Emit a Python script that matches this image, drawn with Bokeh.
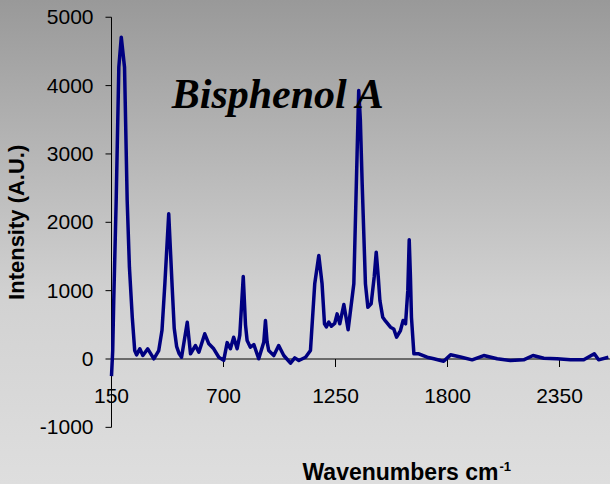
import math
from bokeh.plotting import figure
from bokeh.models import Range1d, Label
from bokeh.core.properties import value
from bokeh.embed import file_html
from bokeh.resources import INLINE

# ---- data ----
wavenumbers = [150, 156, 161, 173, 186, 198, 214, 227, 238, 252, 264, 273, 289, 304, 328, 358,
               382, 398, 412, 431, 448, 458, 470, 482, 494, 522, 538, 562, 579, 608, 628, 652,
               677, 701, 718, 734, 750, 767, 780, 797, 808, 816, 832, 849, 873, 898, 906, 914,
               922, 947, 971, 996, 1029, 1050, 1070, 1103, 1127, 1148, 1168, 1184, 1196, 1205,
               1217, 1230, 1246, 1258, 1271, 1291, 1312, 1340, 1356, 1364, 1372, 1381, 1397,
               1409, 1425, 1440, 1450, 1460, 1468, 1482, 1496, 1520, 1536, 1550, 1569, 1582,
               1594, 1605, 1612, 1618, 1623, 1635, 1659, 1700, 1733, 1766, 1781, 1815, 1864,
               1921, 1978, 2044, 2109, 2174, 2220, 2273, 2338, 2404, 2469, 2521, 2542, 2590]
intensity = [-250, 124, 856, 2319, 4269, 4708, 4269, 2319, 1343, 611, 124, 60, 149, 51, 149, 3,
             124, 420, 1100, 2124, 1050, 450, 180, 80, 26, 538, 76, 197, 99, 369, 222, 149,
             26, -20, 240, 150, 319, 150, 350, 1207, 500, 270, 173, 212, 3, 250, 563, 250,
             124, 51, 197, 51, -61, 17, -22, 26, 124, 1100, 1514, 1100, 515, 470,
             540, 480, 520, 661, 515, 797, 427, 1100, 3000, 3928, 3500, 2563, 1100,
             758, 807, 1200, 1563, 1200, 856, 611, 553, 465, 440, 319, 417, 563,
             515, 1000, 1744, 1200, 611, 76, 76, 26, 3, -22, -32, 61, 30,
             -12, 51, 3, -22, -12, 51, 12, 3, -12, -12, 76, -12, 26]

x_ticks = [150, 700, 1250, 1800, 2350]
x_tick_labels = ["150", "700", "1250", "1800", "2350"]
y_ticks = [-1000, 0, 1000, 2000, 3000, 4000, 5000]
y_tick_labels = ["-1000", "0", "1000", "2000", "3000", "4000", "5000"]

chart_title = "Bisphenol A"
x_title = "Wavenumbers cm"
x_title_sup = "-1"
y_title = "Intensity (A.U.)"

# ---- figure: the frame fills the whole canvas, both axes are drawn by hand ----
W, H = 610, 484
AXIS_PX = 111                      # pixel column of the vertical axis
UNITS_PER_PX_X = 550 / 112.0
X0 = x_ticks[0] - AXIS_PX * UNITS_PER_PX_X
X1 = X0 + W * UNITS_PER_PX_X
Y0, Y1 = -1836, 5245
UNITS_PER_PX_Y = (Y1 - Y0) / H

p = figure(width=W, height=H, output_backend="svg", toolbar_location=None,
           x_range=Range1d(X0, X1), y_range=Range1d(Y0, Y1),
           x_axis_location=None, y_axis_location=None,
           min_border_left=0, min_border_right=0, min_border_top=0, min_border_bottom=0)

p.background_fill_alpha = 0
p.border_fill_alpha = 0
p.outline_line_color = None
p.styles = {"background": "linear-gradient(to bottom, #999999 0%, #d2d2d2 62%, #dedede 100%)"}
p.grid.visible = False

FONT = "Liberation Sans"
xa = x_ticks[0]      # x position of the vertical axis
n_x, n_y = len(x_ticks), len(y_ticks)

# vertical axis line, ticks and labels
p.segment(x0=[xa], y0=[min(y_ticks)], x1=[xa], y1=[max(y_ticks)], line_color="black", line_width=1)
p.segment(x0=[xa] * n_y, y0=y_ticks, x1=[xa - 6 * UNITS_PER_PX_X] * n_y, y1=y_ticks,
          line_color="black", line_width=1)
p.text(x=[xa] * n_y, y=y_ticks, text=y_tick_labels, x_offset=-18,
       text_align="right", text_baseline="middle",
       text_font=value(FONT), text_font_size="21px", text_color="black")
p.text(x=[xa], y=[(min(y_ticks) + max(y_ticks)) / 2], text=[y_title], x_offset=-95,
       angle=math.pi / 2, text_align="center", text_baseline="middle",
       text_font=value(FONT), text_font_style="bold", text_font_size="22px", text_color="black")

# horizontal axis at zero, ticks downward, labels
p.segment(x0=[xa], y0=[0], x1=[X1], y1=[0], line_color="black", line_width=1)
p.segment(x0=x_ticks, y0=[0] * n_x, x1=x_ticks, y1=[-8 * UNITS_PER_PX_Y] * n_x,
          line_color="black", line_width=1)
p.text(x=x_ticks, y=[0] * n_x, text=x_tick_labels, y_offset=37,
       text_align="center", text_baseline="alphabetic",
       text_font=value(FONT), text_font_size="21px", text_color="black")

# spectrum
p.line(wavenumbers, intensity, line_color="#000080", line_width=3.5, line_join="round")

# titles
p.add_layout(Label(x=278, y=391, x_units="screen", y_units="screen", text=chart_title,
                   text_font="Liberation Serif", text_font_style="bold italic",
                   text_font_size="42px", text_align="center", text_baseline="alphabetic",
                   text_color="black"))
p.add_layout(Label(x=498, y=13, x_units="screen", y_units="screen", text=x_title,
                   text_font=FONT, text_font_style="bold", text_font_size="23px",
                   text_align="right", text_baseline="alphabetic", text_color="black"))
p.add_layout(Label(x=499, y=18, x_units="screen", y_units="screen", text=x_title_sup,
                   text_font=FONT, text_font_style="bold", text_font_size="13px",
                   text_align="left", text_baseline="alphabetic", text_color="black"))

open("out.html", "w").write(file_html(p, INLINE))
